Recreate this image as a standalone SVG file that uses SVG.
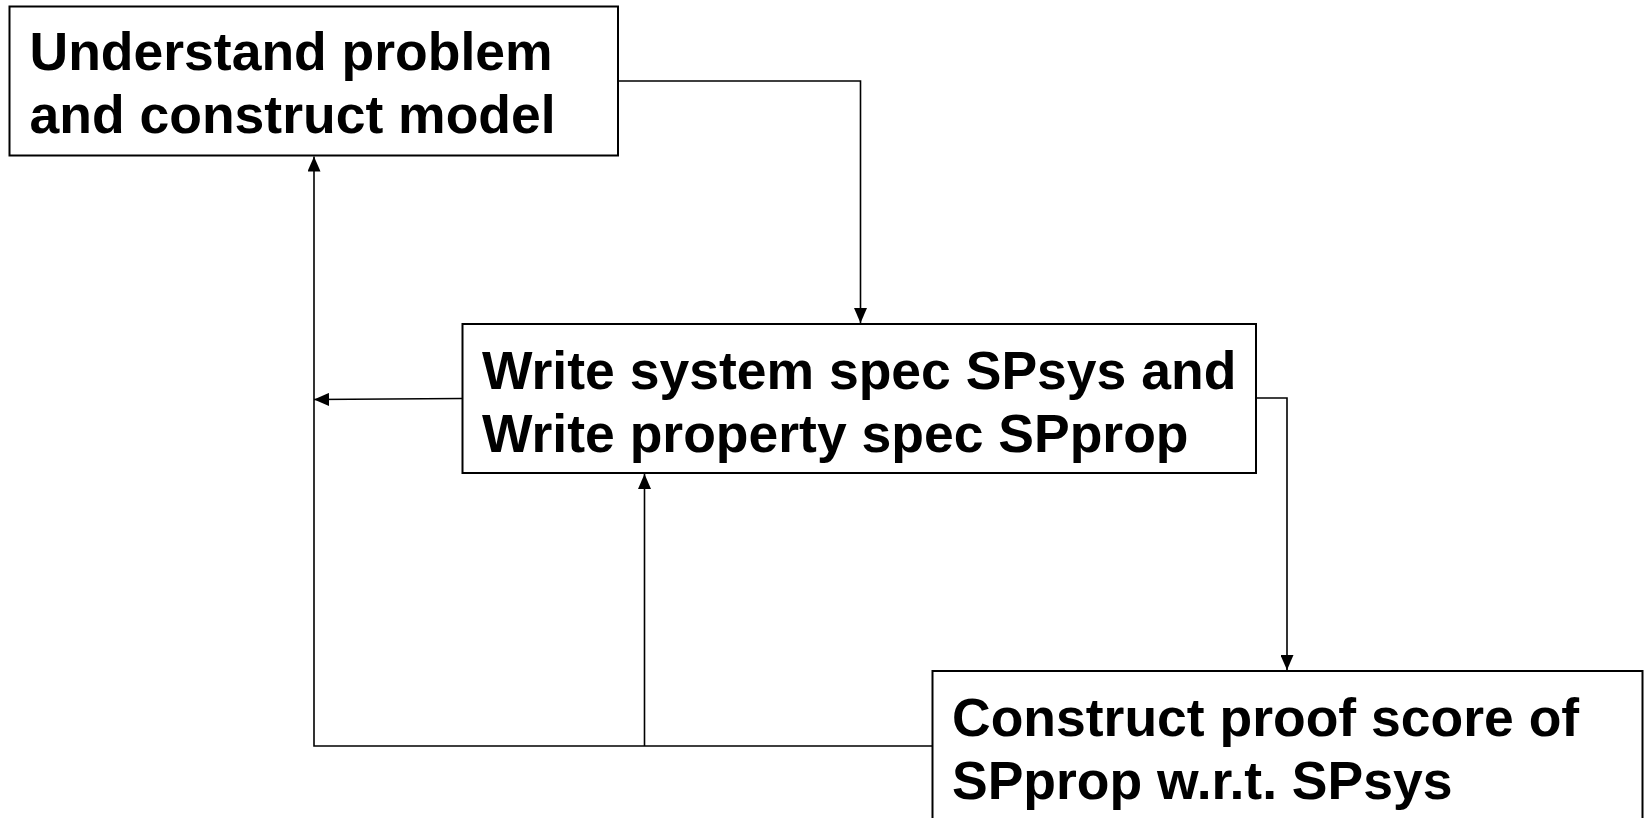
<svg xmlns="http://www.w3.org/2000/svg" width="1648" height="818" viewBox="0 0 1648 818">
<style>
.box{fill:#fff;stroke:#000;stroke-width:2}
.t{font-family:"Liberation Sans",Arial,sans-serif;font-weight:bold;font-size:53.5px;fill:#000}
.c{fill:none;stroke:#000;stroke-width:1.6}
</style>
<defs>
<marker id="ah" markerWidth="15" markerHeight="13" refX="15" refY="6.5" orient="auto" markerUnits="userSpaceOnUse">
<path d="M0,0 L15,6.5 L0,13 Z" fill="#000"/>
</marker>
</defs>
<rect width="1648" height="818" fill="#fff"/>
<g id="connectors">
<path class="c" d="M618,81 H860.5 V323" marker-end="url(#ah)"/>
<path class="c" d="M462,398.5 L314,399.5" marker-end="url(#ah)"/>
<path class="c" d="M932,746 H314 V156.5" marker-end="url(#ah)"/>
<path class="c" d="M644.5,746 V474" marker-end="url(#ah)"/>
<path class="c" d="M1256,398 H1287 V670" marker-end="url(#ah)"/>
</g>
<g id="node1">
<rect class="box" x="9.5" y="6.5" width="608.5" height="149"/>
<text class="t" x="29.5" y="70">Understand problem</text>
<text class="t" x="29.5" y="133">and construct model</text>
</g>
<g id="node2">
<rect class="box" x="462.5" y="324" width="793.5" height="149"/>
<text class="t" x="482" y="389">Write system spec SPsys and</text>
<text class="t" x="482" y="452">Write property spec SPprop</text>
</g>
<g id="node3">
<rect class="box" x="932.5" y="671" width="710" height="160"/>
<text class="t" x="952" y="736">Construct proof score of</text>
<text class="t" x="952" y="799">SPprop w.r.t. SPsys</text>
</g>
</svg>
